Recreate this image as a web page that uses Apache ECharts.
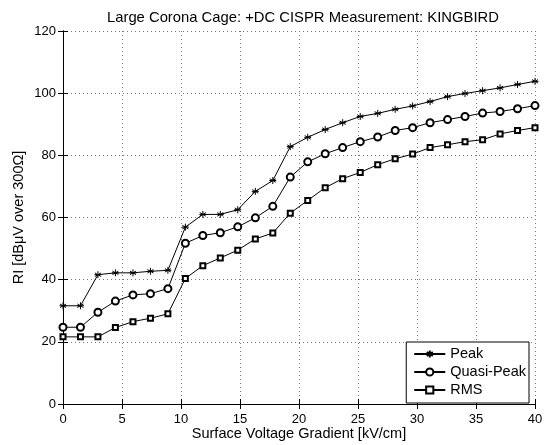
<!DOCTYPE html>
<html>
<head>
<meta charset="utf-8">
<script src="https://cdn.jsdelivr.net/npm/echarts@6/dist/echarts.min.js"></script>
<style>html,body{margin:0;padding:0;background:#fff}#c{width:548px;height:445px}</style>
</head>
<body>
<div id="c"></div>
<script>
var gradient = [0, 1.48, 2.96, 4.44, 5.93, 7.41, 8.89, 10.37, 11.85, 13.33, 14.81, 16.30, 17.78, 19.26, 20.74, 22.22, 23.70, 25.19, 26.67, 28.15, 29.63, 31.11, 32.59, 34.07, 35.56, 37.04, 38.52, 40];
var peak = [31.6, 31.6, 41.6, 42.2, 42.2, 42.7, 43.0, 56.9, 61.0, 61.0, 62.5, 68.4, 71.9, 82.8, 85.8, 88.3, 90.5, 92.5, 93.5, 94.8, 95.9, 97.3, 98.9, 99.9, 100.8, 101.7, 102.8, 103.8];
var quasiPeak = [24.7, 24.7, 29.5, 33.1, 35.1, 35.5, 37.1, 51.7, 54.2, 55.1, 57.0, 59.9, 63.6, 73.0, 77.9, 80.5, 82.5, 84.4, 85.9, 88.0, 88.9, 90.5, 91.5, 92.5, 93.6, 94.1, 95.0, 96.0];
var rms = [21.6, 21.6, 21.6, 24.6, 26.5, 27.6, 29.0, 40.4, 44.5, 47.0, 49.5, 53.1, 55.0, 61.4, 65.5, 69.6, 72.5, 74.5, 77.0, 78.9, 80.4, 82.5, 83.4, 84.4, 85.0, 86.9, 88.0, 88.9];
var seriesNames = ['Peak', 'Quasi-Peak', 'RMS'];

function pairs(vals) { return gradient.map(function (x, i) { return [x, vals[i]]; }); }

var FONT = "'Liberation Sans', Arial, sans-serif";
var starPath = 'path://M5,0L5,10M0.7,2.5L9.3,7.5M0.7,7.5L9.3,2.5M0,5L10,5';
var chart = echarts.init(document.getElementById('c'), null, { renderer: 'canvas' });
var gridLine = { show: true, lineStyle: { color: '#777', type: [1, 3], width: 1 } };
var axisLine = { show: true, lineStyle: { color: '#000', width: 1 } };
var tick = { show: true, inside: true, length: 5, lineStyle: { color: '#000' } };
var lbl = { color: '#000', fontFamily: FONT, fontSize: 13 };

function mkSeries(name, vals, symbol, size) {
  return {
    name: name, type: 'line', data: pairs(vals), symbol: symbol, symbolSize: size,
    showAllSymbol: true, animation: false,
    lineStyle: { color: '#000', width: 1 },
    itemStyle: { color: '#000', borderColor: '#000', borderWidth: 1 },
    emphasis: { disabled: true }
  };
}

chart.setOption({
  animation: false,
  backgroundColor: '#fff',
  title: {
    text: 'Large Corona Cage: +DC CISPR Measurement: KINGBIRD',
    left: 102, top: 5,
    textStyle: { fontFamily: FONT, fontSize: 14.8, fontWeight: 'normal', color: '#000' }
  },
  legend: {
    data: seriesNames, orient: 'vertical', right: 19, bottom: 42,
    itemWidth: 31, itemHeight: 9, itemGap: 2,
    padding: [4, 3, 5, 7],
    borderColor: '#000', borderWidth: 1, backgroundColor: '#fff',
    textStyle: { fontFamily: FONT, fontSize: 14.5, color: '#000', lineHeight: 16 }
  },
  grid: { left: 63, right: 13, top: 31, bottom: 41, containLabel: false, outerBoundsMode: 'none' },
  xAxis: [{
    type: 'value', min: 0, max: 40, interval: 5,
    name: 'Surface Voltage Gradient [kV/cm]', nameLocation: 'middle', nameGap: 22,
    nameMoveOverlap: false,
    nameTextStyle: { fontFamily: FONT, fontSize: 14.5, color: '#000' },
    axisLine: axisLine, axisTick: tick, splitLine: gridLine,
    axisLabel: Object.assign({ margin: 9 }, lbl)
  }, {
    type: 'value', position: 'top', min: 0, max: 40, interval: 5,
    axisLine: axisLine, axisTick: tick, splitLine: { show: false }, axisLabel: { show: false }
  }],
  yAxis: [{
    type: 'value', min: 0, max: 120, interval: 20,
    name: 'RI [dB\u03bcV over 300\u03a9]', nameLocation: 'middle', nameGap: 37,
    nameMoveOverlap: false,
    nameTextStyle: { fontFamily: FONT, fontSize: 14.5, color: '#000' },
    axisLine: axisLine, axisTick: tick, splitLine: gridLine,
    axisLabel: Object.assign({ margin: 7 }, lbl)
  }, {
    type: 'value', position: 'right', min: 0, max: 120, interval: 20,
    axisLine: axisLine, axisTick: tick, splitLine: { show: false }, axisLabel: { show: false }
  }],
  series: [
    mkSeries('Peak', peak, starPath, 7),
    mkSeries('Quasi-Peak', quasiPeak, 'emptyCircle', 7),
    mkSeries('RMS', rms, 'emptyRect', 5)
  ]
});
</script>
</body>
</html>
